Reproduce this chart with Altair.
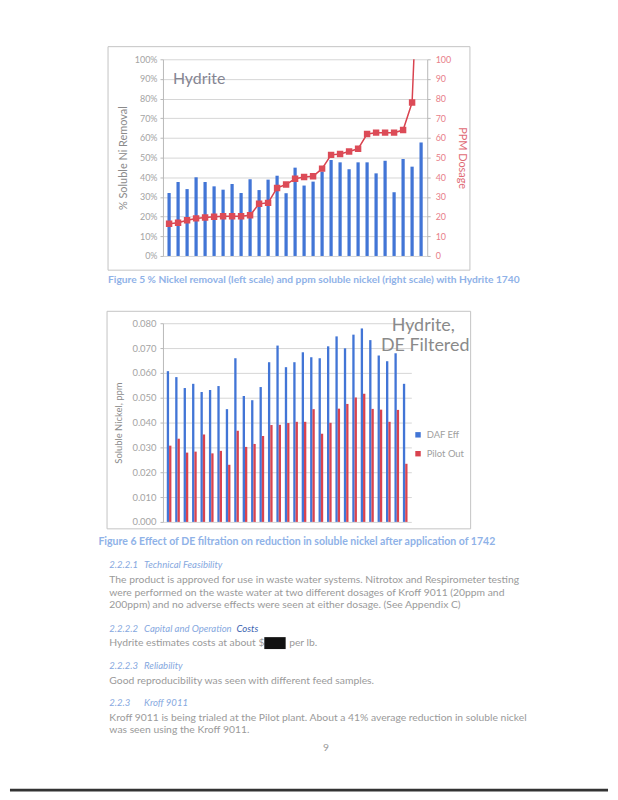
import altair as alt
import pandas as pd

# ---------------- data ----------------
runs = list(range(1, 30))
removal_pct = [32, 37.6, 34, 40, 37.6, 35.4, 33.7, 36.6, 32, 39, 33.5, 38.8, 40.8, 31.9, 44.9,
               35.8, 37.8, 42.9, 48.8, 47.6, 44.1, 47.6, 47.6, 42.0, 48.4, 32.4, 49.3, 45.4, 57.7]
dosage_ppm = [16.4, 16.9, 18.2, 19.1, 19.6, 19.9, 20.2, 20.2, 20.2, 20.7, 26.5, 27, 34.6, 36.3, 39.3,
              40.1, 40.5, 44.4, 51.4, 51.8, 53.1, 54.5, 62, 62.7, 62.7, 62.7, 64, 78, 190]
daf_eff = [0.0607, 0.0583, 0.0539, 0.0556, 0.0523, 0.0531, 0.0547, 0.0454, 0.0659, 0.0507,
           0.0490, 0.0543, 0.0643, 0.0710, 0.0623, 0.0643, 0.0683, 0.0663, 0.0659, 0.0707,
           0.0747, 0.0699, 0.0754, 0.0779, 0.0732, 0.0670, 0.0647, 0.0679, 0.0556]
pilot_out = [0.0307, 0.0335, 0.0279, 0.0283, 0.0352, 0.0276, 0.0286, 0.0230, 0.0367, 0.0302,
             0.0314, 0.0346, 0.0390, 0.0391, 0.0398, 0.0403, 0.0403, 0.0454, 0.0355, 0.0399,
             0.0456, 0.0475, 0.0501, 0.0516, 0.0455, 0.0452, 0.0403, 0.0451, 0.0234]
series_names = ["DAF Eff", "Pilot Out"]
pct_ticks = [i / 10 for i in range(11)]
ppm_ticks = list(range(0, 101, 10))
ni_ticks = [i / 100 for i in range(9)]

caption5 = "Figure 5 % Nickel removal (left scale) and ppm soluble nickel (right scale) with Hydrite 1740"
caption6 = "Figure 6 Effect of DE filtration on reduction in soluble nickel after application of 1742"
body1 = ["The product is approved for use in waste water systems. Nitrotox and Respirometer testing",
         "were performed on the waste water at two different dosages of Kroff 9011 (20ppm and",
         "200ppm) and no adverse effects were seen at either dosage. (See Appendix C)"]
body2 = "Hydrite estimates costs at about $"
body3 = "Good reproducibility was seen with different feed samples."
body4 = ["Kroff 9011 is being trialed at the Pilot plant.  About a 41% average reduction in soluble nickel",
         "was seen using the Kroff 9011."]

# ---------------- style ----------------
FONT = "Lato"
BLUE = "#4275d6"
RED = "#d9434f"
BODY = "#9a9a9a"
HEAD = "#86a8e0"
CAP = "#8fb2e8"
BS = 10.4   # body font size
HS = 9.6    # heading font size

df1 = pd.DataFrame({"run": runs, "removal": [v / 100 for v in removal_pct], "dosage": dosage_ppm})
df2 = pd.DataFrame({"run": runs * 2,
                    "series": [series_names[0]] * len(runs) + [series_names[1]] * len(runs),
                    "nickel": daf_eff + pilot_out})
one = alt.Data(values=[{"k": 1}])


def txt(s, x, y, size=BS, color=BODY, weight="normal", style="normal", align="left"):
    return alt.Chart(one).mark_text(text=s, fontSize=size, color=color, fontWeight=weight,
                                    fontStyle=style, align=align, baseline="middle",
                                    font=FONT).encode(x=alt.value(x), y=alt.value(y))


def box(x, x2, y, y2):
    return alt.Chart(one).mark_rect(filled=False, stroke="#c4c4c4", strokeWidth=1).encode(
        x=alt.value(x), x2=alt.value(x2), y=alt.value(y), y2=alt.value(y2))


# ---------------- chart 1 ----------------
x1 = alt.X("run:O", axis=None, scale=alt.Scale(paddingInner=0.64, paddingOuter=0.5))
bars1 = alt.Chart(df1).mark_bar(color=BLUE).encode(
    x=x1,
    y=alt.Y("removal:Q", scale=alt.Scale(domain=[0, 1]),
            axis=alt.Axis(format="%", values=pct_ticks, title="% Soluble Ni Removal",
                          labelFontSize=9, titleFontSize=11, tickSize=3, labelPadding=3,
                          titlePadding=6)))
ppm_axis = alt.Axis(orient="right", values=ppm_ticks, title="PPM Dosage", grid=False,
                    labelColor="#e8808a", titleColor="#e06a75", labelFontSize=9,
                    titleFontSize=11, tickSize=3, labelPadding=5, titlePadding=6)
line1 = alt.Chart(df1).mark_line(color=RED, strokeWidth=1.5, clip=True).encode(
    x=x1, y=alt.Y("dosage:Q", scale=alt.Scale(domain=[0, 100]), axis=ppm_axis))
pts1 = alt.Chart(df1).mark_point(shape="square", filled=True, size=42, color="#dc4b57",
                                 opacity=1, clip=True).encode(
    x=x1, y=alt.Y("dosage:Q", scale=alt.Scale(domain=[0, 100]), axis=ppm_axis))

chart1 = alt.layer(
    bars1,
    alt.layer(line1, pts1),
    box(-55.3, 309, -12.7, 212.3),
    txt("Hydrite", 10, 20, size=16, color="#858592"),
    txt(caption5, -55.3, 222, size=10.3, color=CAP, weight="bold"),
).resolve_scale(y="independent").properties(width=266, height=198)

# ---------------- chart 2 ----------------
bars2 = alt.Chart(df2).mark_bar().encode(
    x=alt.X("run:O", axis=None, scale=alt.Scale(paddingInner=0.45, paddingOuter=0.45)),
    xOffset=alt.XOffset("series:N", sort=series_names),
    y=alt.Y("nickel:Q", scale=alt.Scale(domain=[0, 0.08]),
            axis=alt.Axis(format=".3f", values=ni_ticks, title="Soluble Nickel, ppm",
                          labelFontSize=9.5, titleFontSize=9.5, tickSize=3, labelPadding=4,
                          titlePadding=8)),
    color=alt.Color("series:N", sort=series_names,
                    scale=alt.Scale(domain=series_names, range=[BLUE, RED]),
                    legend=alt.Legend(orient="none", legendX=252, legendY=373.3, title=None,
                                      symbolType="square", symbolSize=30, labelFontSize=9.5,
                                      labelColor="#a0a0a0", rowPadding=8, labelFont=FONT)))

x_num, x_word = -54, -19
text_layers = [
    box(-56.3, 309.7, -12, 207),
    txt("Hydrite,", 262, 3, size=18, color="#8a8a8a", align="center"),
    txt("DE Filtered", 264, 23, size=18, color="#8a8a8a", align="center"),
    txt(caption6, -65, 220.7, size=10.6, color=CAP, weight="bold"),
    txt("2.2.2.1", x_num, 243, size=HS, color=HEAD, style="italic"),
    txt("Technical Feasibility", x_word, 243, size=HS, color=HEAD, style="italic"),
    txt(body1[0], x_num, 259),
    txt(body1[1], x_num, 271.5),
    txt(body1[2], x_num, 284),
    txt("2.2.2.2", x_num, 308, size=HS, color=HEAD, style="italic"),
    txt("Capital and Operation", x_word, 308, size=HS, color=HEAD, style="italic"),
    txt("Costs", 74, 308, size=HS, color="#3a5fb0", style="italic"),
    txt(body2, x_num, 322),
    alt.Chart(one).mark_rect(color="#111111").encode(
        x=alt.value(102), x2=alt.value(123.5), y=alt.value(316), y2=alt.value(328)),
    txt("per lb.", 127, 322),
    txt("2.2.2.3", x_num, 345, size=HS, color=HEAD, style="italic"),
    txt("Reliability", x_word, 345, size=HS, color=HEAD, style="italic"),
    txt(body3, x_num, 360),
    txt("2.2.3", x_num, 382, size=HS, color=HEAD, style="italic"),
    txt("Kroff 9011", x_word, 382, size=HS, color=HEAD, style="italic"),
    txt(body4[0], x_num, 397),
    txt(body4[1], x_num, 409),
    txt("9", 164, 428, align="center"),
    alt.Chart(one).mark_rule(color="#333333", strokeWidth=3).encode(
        x=alt.value(-154), x2=alt.value(448), y=alt.value(470)),
]

chart2 = alt.layer(bars2, *text_layers).properties(width=250, height=200)

chart = alt.vconcat(
    chart1, chart2, spacing=67.7, bounds="flush",
    padding={"left": 0, "top": 35, "right": 0, "bottom": 0},
).configure_view(strokeWidth=0).configure_axis(
    labelFont=FONT, titleFont=FONT, labelColor="#a4a4a4", titleColor="#8a8a8a",
    titleFontWeight="normal", domainColor="#b8b8b8", tickColor="#b8b8b8",
    gridColor="#d6d6d6")

chart.save("out.html", embed_options={"renderer": "svg", "actions": False})
